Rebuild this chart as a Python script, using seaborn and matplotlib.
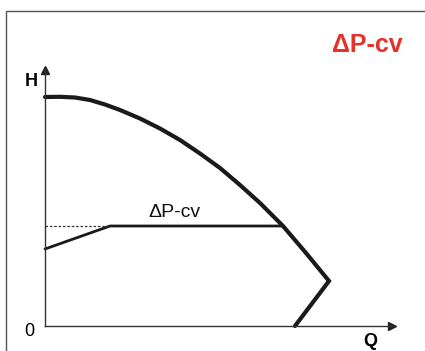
import matplotlib
matplotlib.use("Agg")
import matplotlib.pyplot as plt
import matplotlib.patches as patches
import seaborn as sns
import pandas as pd

# pump curve (max speed), Q / H in arbitrary units
pump_q = [0.0, 1.5, 3.0, 4.5, 6.0, 7.5, 9.5, 11.5, 13.5, 15.5, 17.5, 19.5, 21.5,
          23.8, 26.1, 28.4, 25.0]
pump_h = [22.9, 22.92, 22.85, 22.6, 22.15, 21.6, 20.75, 19.75, 18.6, 17.25, 15.8, 14.1, 12.3,
          10.0, 7.3, 4.5, 0.0]

# constant differential pressure control line
ctrl_q = [0.0, 6.5, 23.8]
ctrl_h = [7.7, 10.0, 10.0]

# dotted setpoint reference
ref_q = [0.0, 6.5]
ref_h = [10.0, 10.0]

title = "ΔP-cv"
curve_label = "ΔP-cv"

W, H = 425, 351

def main():
    sns.set_style("white")
    plt.rcParams['font.family'] = ['Liberation Sans', 'DejaVu Sans']
    plt.rcParams['text.color'] = 'black'

    fig = plt.figure(figsize=(W / 100, H / 100), dpi=100)
    ax = fig.add_axes([45 / W, (H - 326) / H, 347 / W, 256 / H])

    pump = pd.DataFrame({"Q": pump_q, "H": pump_h})
    ctrl = pd.DataFrame({"Q": ctrl_q, "H": ctrl_h})
    ref = pd.DataFrame({"Q": ref_q, "H": ref_h})

    sns.lineplot(data=pump, x="Q", y="H", sort=False, color="#1a1a1a", lw=3.0, ax=ax,
                 solid_joinstyle="miter", clip_on=False)
    sns.lineplot(data=ctrl, x="Q", y="H", sort=False, color="#1a1a1a", lw=2.0, ax=ax,
                 clip_on=False)
    sns.lineplot(data=ref, x="Q", y="H", sort=False, color="#333333", lw=0.9, ax=ax,
                 linestyle=(0, (2, 1.5)))

    ax.set_xlim(0, 34.7)
    ax.set_ylim(0, 25.6)
    ax.set_xticks([])
    ax.set_yticks([])
    ax.set_xlabel("")
    ax.set_ylabel("")
    ax.patch.set_alpha(0)
    for s in ["top", "right"]:
        ax.spines[s].set_visible(False)
    for s in ["left", "bottom"]:
        ax.spines[s].set_color("#333333")
        ax.spines[s].set_linewidth(1.0)

    # arrow heads
    ax.plot(1, 0, ">", color="#222222", ms=6, transform=ax.transAxes, clip_on=False)
    ax.plot(0, 1, "^", color="#222222", ms=6, transform=ax.transAxes, clip_on=False)

    ax.text(10.3, 10.9, curve_label, fontsize=14, color="#111111", ha="left", va="baseline")

    fig.text(31 / W, 1 - 81 / H, "H", fontsize=13, fontweight="bold", ha="center", va="center")
    fig.text(370 / W, 1 - 342 / H, "Q", fontsize=13, fontweight="bold", ha="center", va="center")
    fig.text(29 / W, 1 - 331 / H, "0", fontsize=13, ha="center", va="center")
    fig.text(367 / W, 1 - 45 / H, title, fontsize=18, fontweight="bold", color="#e8302a",
             ha="center", va="center")

    top = 1 - 11 / H
    frame = patches.Rectangle((6 / W, -0.2), 1.2, top + 0.2, transform=fig.transFigure,
                              fill=False, edgecolor="#555555", lw=1.0)
    fig.patches.append(frame)

    fig.savefig("out.png", dpi=100)


if __name__ == '__main__':
    main()
